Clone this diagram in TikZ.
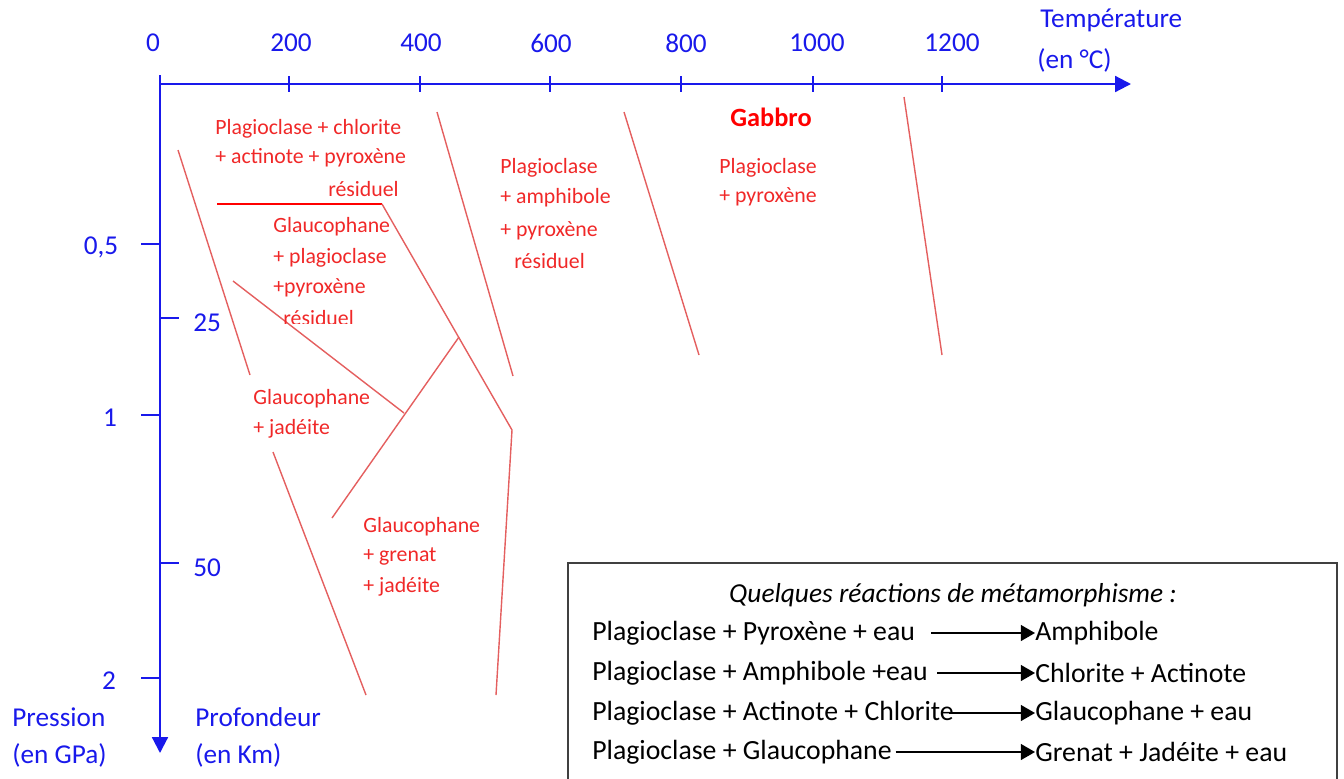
\documentclass[tikz,border=0pt]{standalone}
\usepackage{fontspec}
\setmainfont{Carlito}
\usetikzlibrary{arrows.meta}
\definecolor{axisblue}{RGB}{25,25,235}
\definecolor{phasered}{RGB}{240,40,40}
\definecolor{limitred}{RGB}{228,95,95}
\tikzset{
  axis/.style={axisblue, line width=1.2pt, -{Triangle[length=9pt,width=9pt]}},
  axistick/.style={axisblue, line width=0.8pt},
  axislabel/.style={text=axisblue, font=\fontsize{15.5}{18}\selectfont, inner sep=0pt},
  phaselabel/.style={text=phasered, font=\fontsize{12.4}{15}\selectfont, inner sep=0pt, anchor=west},
  limit/.style={limitred, line width=0.8pt},
  reaction/.style={font=\fontsize{15.8}{18}\selectfont, inner sep=0pt, anchor=west},
  yields/.style={line width=0.8pt, -{Triangle[length=8pt,width=9pt]}}
}
\begin{document}
\begin{tikzpicture}[x=0.02cm, y=-0.02cm]
\useasboundingbox (0,0) rectangle (1344,778);

% axes
\coordinate (O) at (160,84);
\coordinate (Otop) at (160,75);
\coordinate (Tend) at (1131,84);
\coordinate (Pend) at (160,753);
\draw[axis] (Otop) -- (Pend);
\draw[axis] (O) -- (Tend);

% temperature scale
\node[axislabel] (t0) at (153,43) {0};
\foreach \t/\x/\lx in {200/289/291, 400/420/421, 600/550/551, 800/681/686, 1000/813/817, 1200/942/952}{
  \draw[axistick] (\x,76) -- (\x,92);
  \node[axislabel] (t\t) at (\lx,43) {\t};
}
\node[axislabel, anchor=west] (temp) at (1040,20) {Température};
\node[axislabel, anchor=west] (tempunit) at (1037,60) {(en °C)};

% pressure scale
\foreach \p/\y/\lx in {{0,5}/244/101, 1/415/110, 2/678/109}{
  \draw[axistick] (141,\y) -- (160,\y);
  \node[axislabel] at (\lx,\y+3) {\p};
}
\node[axislabel, anchor=west] (pres) at (12,717) {Pression};
\node[axislabel, anchor=west] (presunit) at (12,755) {(en GPa)};

% depth scale
\foreach \d/\y in {25/318, 50/563}{
  \draw[axistick] (160,\y) -- (179,\y);
  \node[axislabel, anchor=west] at (193,\y+5) {\d};
}
\node[axislabel, anchor=west] (prof) at (195,717) {Profondeur};
\node[axislabel, anchor=west] (profunit) at (195,755) {(en Km)};

% phase limits
\coordinate (a1) at (178,150);  \coordinate (a2) at (250,375);
\coordinate (b0) at (217,204);  \coordinate (b1) at (382,204);
\coordinate (b2) at (512,430);  \coordinate (b3) at (496,695);
\coordinate (c1) at (437,112);  \coordinate (c2) at (513,376);
\coordinate (d1) at (233,281);  \coordinate (d2) at (404,413);
\coordinate (e1) at (459,337);  \coordinate (e2) at (332,518);
\coordinate (f1) at (273,452);  \coordinate (f2) at (366,695);
\coordinate (g1) at (624,112);  \coordinate (g2) at (699,355);
\coordinate (h1) at (904,97);   \coordinate (h2) at (942,355);

\draw[limit] (a1) -- (a2);
\draw[red, line width=1pt] (b0) -- (b1);
\draw[limit] (b1) -- (b2) -- (b3);
\draw[limit] (c1) -- (c2);
\draw[limit] (d1) -- (d2);
\draw[limit] (e1) -- (e2);
\draw[limit] (f1) -- (f2);
\draw[limit] (g1) -- (g2);
\draw[limit] (h1) -- (h2);

% phase fields
\node[phaselabel] (sv1) at (215,129) {Plagioclase + chlorite};
\node[phaselabel] (sv2) at (215,158) {+ actinote + pyroxène};
\node[phaselabel, anchor=east] (sv3) at (399,189) {résiduel};

\node[phaselabel] (sb1) at (273,227) {Glaucophane};
\node[phaselabel] (sb2) at (273,258) {+ plagioclase};
\node[phaselabel] (sb3) at (273,288) {+pyroxène};
\begin{scope}
\clip (270,300) rectangle (400,323);
\node[phaselabel] (sb4) at (283,318) {résiduel};
\end{scope}

\node[phaselabel] (am1) at (500,168) {Plagioclase};
\node[phaselabel] (am2) at (500,198) {+ amphibole};
\node[phaselabel] (am3) at (500,231) {+ pyroxène};
\node[phaselabel] (am4) at (514,261) {résiduel};

\node[phaselabel, anchor=center, text=red, font=\fontsize{15}{18}\selectfont\bfseries] (gab) at (771,117) {Gabbro};
\node[phaselabel] (gb1) at (719,168) {Plagioclase};
\node[phaselabel] (gb2) at (719,197) {+ pyroxène};

\node[phaselabel] (sj1) at (253,399) {Glaucophane};
\node[phaselabel] (sj2) at (253,429) {+ jadéite};

\node[phaselabel] (ec1) at (363,527) {Glaucophane};
\node[phaselabel] (ec2) at (363,556) {+ grenat};
\node[phaselabel] (ec3) at (363,587) {+ jadéite};

% reactions
\draw[line width=1pt, black!75] (568,800) |- (1337,563) -- (1337,800);
\node[reaction, anchor=center, font=\fontsize{15.6}{18}\selectfont\itshape] (title) at (953,595) {Quelques réactions de métamorphisme :};
\foreach \i/\y/\src/\dst in {
  1/633/{Plagioclase + Pyroxène + eau}/{Amphibole},
  2/673/{Plagioclase + Amphibole +eau}/{Chlorite + Actinote},
  3/713/{Plagioclase + Actinote + Chlorite}/{Glaucophane + eau},
  4/752/{Plagioclase + Glaucophane}/{Grenat + Jadéite + eau}}{
  \node[reaction] (r\i) at (592,\y) {\src};
  \node[reaction] (p\i) at (1035,\y) {\dst};
}
\draw[yields] ([xshift=9pt]r1.east) -- (p1.west);
\draw[yields] ([xshift=5pt]r2.east) -- (p2.west);
\draw[yields] ([xshift=-3pt]r3.east) -- (p3.west);
\draw[yields] ([xshift=2pt]r4.east) -- (p4.west);

\end{tikzpicture}
\end{document}
